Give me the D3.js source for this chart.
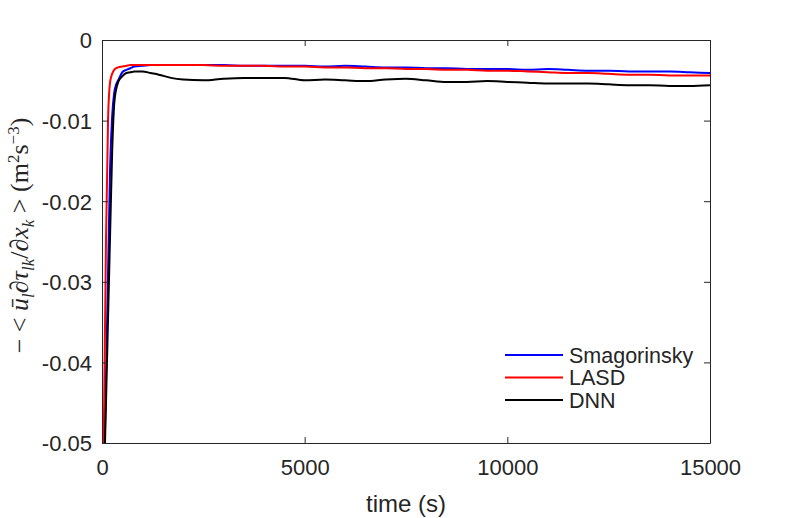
<!DOCTYPE html>
<html>
<head>
<meta charset="utf-8">
<script src="https://cdn.jsdelivr.net/npm/d3@7"></script>
<style>
  body { margin: 0; background: #fff; }
  svg { display: block; }
  .tick text { font-family: "Liberation Sans", Arial, sans-serif; font-size: 22px; fill: #262626; }
</style>
</head>
<body>
<div id="chart"></div>
<script>
// Data
const time = [0, 50, 100, 150, 200, 250, 300, 350, 400, 500, 600, 700, 800, 1000, 1200, 1400, 1700, 2000,
  2500, 3000, 3500, 4000, 4500, 5000, 5500, 6000, 6500, 7000, 7500, 8000, 8500, 9000, 9500, 10000,
  10500, 11000, 11500, 12000, 12500, 13000, 13500, 14000, 14500, 15000];

const smagorinsky = [-0.067, -0.0544, -0.0415, -0.0287, -0.0158, -0.0095, -0.0066, -0.0055, -0.0050, -0.0040,
  -0.0037, -0.0035, -0.0033, -0.0032, -0.0031, -0.0031, -0.0031, -0.0031, -0.0031, -0.0031, -0.0032, -0.0032,
  -0.0032, -0.0032, -0.0033, -0.0032, -0.0033, -0.0034, -0.0034, -0.0035, -0.0035, -0.0036, -0.0036, -0.0036,
  -0.0037, -0.0036, -0.0037, -0.0038, -0.0038, -0.0039, -0.0039, -0.0039, -0.0040, -0.0041];

const lasd = [-0.0685, -0.0465, -0.0244, -0.0098, -0.0052, -0.0042, -0.0037, -0.0035, -0.0034, -0.0033,
  -0.0032, -0.0031, -0.0031, -0.0031, -0.0031, -0.0031, -0.0031, -0.0031, -0.0031, -0.0032, -0.0032, -0.0032,
  -0.0033, -0.0033, -0.0034, -0.0034, -0.0035, -0.0035, -0.0036, -0.0036, -0.0037, -0.0037, -0.0038, -0.0038,
  -0.0039, -0.0040, -0.0041, -0.0041, -0.0042, -0.0043, -0.0043, -0.0044, -0.0044, -0.0044];

const dnn = [-0.0652, -0.0549, -0.0446, -0.0343, -0.0240, -0.0140, -0.0080, -0.0061, -0.0052, -0.0045,
  -0.0041, -0.0040, -0.0039, -0.0039, -0.0041, -0.0043, -0.0047, -0.0049, -0.0050, -0.0048, -0.0047, -0.0047,
  -0.0047, -0.0050, -0.0049, -0.0050, -0.0051, -0.0049, -0.0048, -0.0050, -0.0052, -0.0052, -0.0051, -0.0052,
  -0.0053, -0.0054, -0.0054, -0.0054, -0.0055, -0.0056, -0.0056, -0.0057, -0.0057, -0.0056];

const seriesNames = ["Smagorinsky", "LASD", "DNN"];
const seriesColors = ["#0000ff", "#ff0000", "#000000"];
const xTicks = [0, 5000, 10000, 15000];
const yTicks = [0, -0.01, -0.02, -0.03, -0.04, -0.05];

// Config
const W = 785, H = 518;
const margin = { top: 40, right: 75, bottom: 75, left: 102 };
const iw = W - margin.left - margin.right;
const ih = H - margin.top - margin.bottom;
const axisColor = "#262626";

const svg = d3.select("#chart").append("svg")
  .attr("width", W)
  .attr("height", H);

const g = svg.append("g").attr("transform", `translate(${margin.left},${margin.top})`);

const x = d3.scaleLinear().domain([0, 15000]).range([0, iw]);
const y = d3.scaleLinear().domain([-0.05, 0]).range([ih, 0]);

svg.append("defs").append("clipPath").attr("id", "clip")
  .append("rect").attr("width", iw).attr("height", ih);

// Lines
const series = [smagorinsky, lasd, dnn];
const line = d3.line()
  .x((d, i) => x(time[i]))
  .y(d => y(d))
  .curve(d3.curveMonotoneX);

g.append("g").attr("clip-path", "url(#clip)")
  .selectAll("path")
  .data(series)
  .join("path")
  .attr("fill", "none")
  .attr("stroke", (d, i) => seriesColors[i])
  .attr("stroke-width", 2)
  .attr("stroke-linejoin", "round")
  .attr("d", line);

// Axes (MATLAB style: inward ticks on all sides, box on)
const fmtY = d => d === 0 ? "0" : d3.format(".2f")(d).replace("−", "-");

const xAxis = g.append("g").attr("transform", `translate(0,${ih})`)
  .call(d3.axisBottom(x).tickValues(xTicks).tickSizeInner(-6).tickSizeOuter(0).tickPadding(16).tickFormat(d3.format("d")));
const yAxis = g.append("g")
  .call(d3.axisLeft(y).tickValues(yTicks).tickSizeInner(-6).tickSizeOuter(0).tickPadding(10).tickFormat(fmtY));
const xTop = g.append("g")
  .call(d3.axisTop(x).tickValues(xTicks).tickSizeInner(-6).tickSizeOuter(0).tickFormat(""));
const yRight = g.append("g").attr("transform", `translate(${iw},0)`)
  .call(d3.axisRight(y).tickValues(yTicks).tickSizeInner(-6).tickSizeOuter(0).tickFormat(""));

[xAxis, yAxis, xTop, yRight].forEach(a => {
  a.select(".domain").attr("stroke", axisColor).attr("stroke-width", 1);
  a.selectAll(".tick line").attr("stroke", axisColor);
});
yAxis.selectAll(".tick text").attr("dy", "0.36em");

// Axis labels
svg.append("text")
  .attr("x", margin.left + iw / 2)
  .attr("y", 512)
  .attr("text-anchor", "middle")
  .style("font-family", "'Liberation Sans', Arial, sans-serif")
  .style("font-size", "24px")
  .style("fill", axisColor)
  .text("time (s)");

const yl = svg.append("text")
  .attr("transform", `translate(28,${margin.top + ih / 2 - 6}) rotate(-90)`)
  .attr("text-anchor", "middle")
  .style("font-family", "'Liberation Serif', 'DejaVu Serif', serif")
  .style("font-size", "26px")
  .style("fill", axisColor);

const parts = [
  { t: "\u2212 < ", s: "normal" },
  { t: "\u016B", s: "italic" },
  { t: "l", s: "italic", sub: true },
  { t: "\u2202", s: "normal" },
  { t: "\u03C4", s: "italic" },
  { t: "lk", s: "italic", sub: true },
  { t: "/\u2202", s: "normal" },
  { t: "x", s: "italic" },
  { t: "k", s: "italic", sub: true },
  { t: " > (m", s: "normal" },
  { t: "2", s: "normal", sup: true },
  { t: "s", s: "normal" },
  { t: "\u22123", s: "normal", sup: true },
  { t: ")", s: "normal" }
];
let shift = 0;
parts.forEach(p => {
  const target = p.sub ? 6 : p.sup ? -9 : 0;
  yl.append("tspan")
    .attr("dy", target - shift)
    .style("font-style", p.s)
    .style("font-size", (p.sub || p.sup) ? "17px" : null)
    .text(p.t);
  shift = target;
});

// Legend
const legend = g.append("g").attr("transform", `translate(${505 - margin.left},${355 - margin.top})`);
seriesNames.forEach((name, i) => {
  const row = legend.append("g").attr("transform", `translate(0,${i * 22.5})`);
  row.append("line")
    .attr("x1", 0).attr("x2", 58)
    .attr("stroke", seriesColors[i])
    .attr("stroke-width", 2);
  row.append("text")
    .attr("x", 64)
    .attr("dy", "0.36em")
    .style("font-family", "'Liberation Sans', Arial, sans-serif")
    .style("font-size", "21.5px")
    .style("fill", axisColor)
    .text(name);
});
</script>
</body>
</html>
